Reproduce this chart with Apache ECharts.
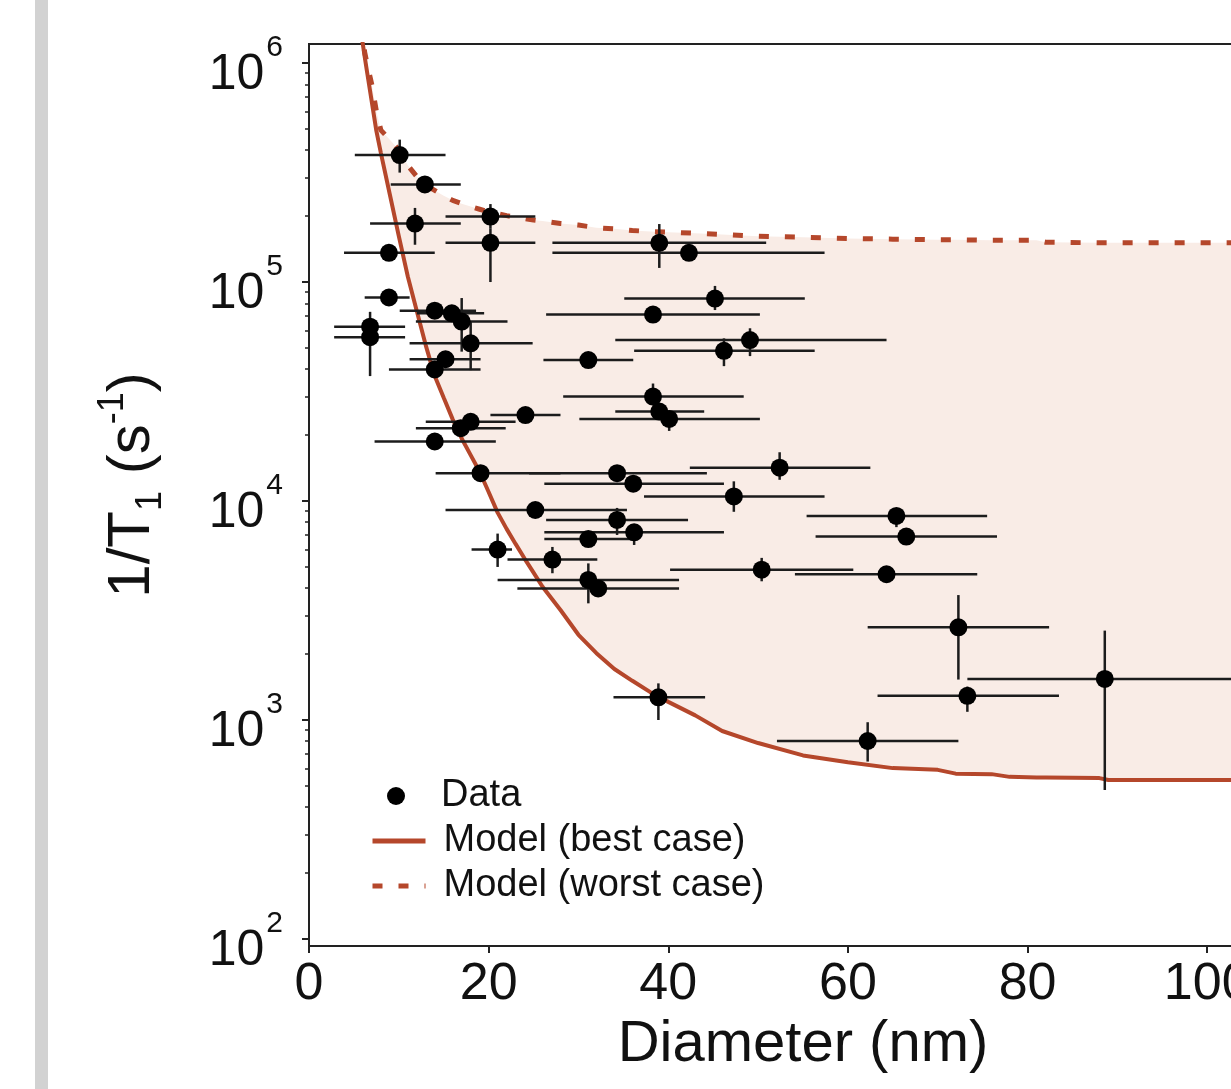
<!DOCTYPE html>
<html>
<head>
<meta charset="utf-8">
<script src="https://cdn.jsdelivr.net/npm/echarts@6/dist/echarts.min.js"></script>
<style>
html, body { margin: 0; padding: 0; overflow: hidden; background: #fff; width: 1231px; height: 1089px; }
#bar { position: absolute; left: 35px; top: 0; width: 13px; height: 1089px; background: #d2d2d2; }
#chart { position: absolute; left: 0; top: 0; width: 1300px; height: 1089px; }
</style>
</head>
<body>
<div id="chart"></div>
<div id="bar"></div>
<script>
// ---- Data points: diameter (nm) and relaxation rate 1/T1 (s^-1) with error ranges ----
const diameter     = [10.1, 12.9, 11.8, 20.2, 20.2, 8.9, 8.9, 14.0, 15.9, 17.0, 18.0, 6.8, 6.8, 15.2, 14.0, 14.0, 16.9, 18.0, 24.1, 19.1, 34.3, 36.1, 47.3, 25.2, 34.3, 36.2, 31.1, 21.0, 27.1, 31.1, 32.2, 38.9, 39.0, 42.3, 45.2, 38.3, 49.1, 46.2, 31.1, 38.3, 39.0, 40.1, 52.4, 65.4, 66.5, 50.4, 64.3, 72.3, 73.3, 88.6, 62.2];
const diameterLow  = [5.1, 9.1, 6.8, 15.2, 15.2, 3.9, 6.2, 10.1, 12.0, 11.9, 11.2, 2.8, 2.8, 11.2, 8.9, 7.3, 11.9, 13.0, 20.2, 14.1, 24.5, 26.2, 37.3, 15.2, 26.4, 26.2, 26.2, 18.1, 22.1, 21.0, 23.2, 33.9, 27.1, 27.1, 35.1, 26.4, 34.1, 36.2, 26.1, 28.3, 34.1, 30.1, 42.4, 55.4, 56.4, 40.2, 54.1, 62.2, 63.3, 73.3, 52.1];
const diameterHigh = [15.2, 16.9, 16.9, 25.2, 25.2, 14.0, 11.2, 18.6, 19.5, 22.1, 24.9, 10.7, 10.7, 19.1, 19.1, 20.8, 21.9, 23.0, 28.0, 28.0, 44.3, 46.2, 57.4, 35.4, 42.2, 46.2, 35.9, 22.6, 32.1, 41.2, 41.2, 44.1, 50.9, 57.4, 55.2, 50.2, 64.3, 56.3, 36.1, 48.4, 44.0, 50.2, 62.5, 75.5, 76.6, 60.6, 74.4, 82.4, 83.5, 104, 72.3];
const rate         = [3.8e5, 2.79e5, 1.85e5, 1.99e5, 1.51e5, 1.36e5, 8.5e4, 7.4e4, 7.2e4, 6.6e4, 5.25e4, 6.25e4, 5.6e4, 4.44e4, 3.99e4, 1.87e4, 2.15e4, 2.3e4, 2.47e4, 1.34e4, 1.34e4, 1.2e4, 1.05e4, 9.1e3, 8.2e3, 7.2e3, 6.7e3, 6.0e3, 5.4e3, 4.36e3, 3.99e3, 1.27e3, 1.51e5, 1.36e5, 8.4e4, 7.1e4, 5.43e4, 4.85e4, 4.4e4, 3.0e4, 2.56e4, 2.37e4, 1.42e4, 8.55e3, 6.88e3, 4.86e3, 4.63e3, 2.65e3, 1.29e3, 1.54e3, 802];
const rateLow      = [3.16e5, 2.79e5, 1.48e5, 1.75e5, 1.0e5, 1.36e5, 8.5e4, 7.4e4, 7.2e4, 4.81e4, 3.96e4, 6.25e4, 3.72e4, 4.44e4, 3.99e4, 1.87e4, 2.15e4, 2.3e4, 2.47e4, 1.34e4, 1.34e4, 1.2e4, 8.93e3, 9.1e3, 7.0e3, 6.3e3, 6.7e3, 5.0e3, 4.68e3, 3.41e3, 3.99e3, 1.0e3, 1.16e5, 1.36e5, 7.45e4, 7.1e4, 4.59e4, 4.13e4, 4.4e4, 3.0e4, 2.56e4, 2.09e4, 1.25e4, 7.6e3, 6.88e3, 4.3e3, 4.63e3, 1.53e3, 1.09e3, 479, 646];
const rateHigh     = [4.47e5, 2.79e5, 2.18e5, 2.27e5, 1.75e5, 1.36e5, 8.5e4, 7.4e4, 7.2e4, 8.45e4, 6.6e4, 7.31e4, 5.6e4, 4.44e4, 3.99e4, 1.87e4, 2.15e4, 2.3e4, 2.47e4, 1.34e4, 1.34e4, 1.2e4, 1.23e4, 9.1e3, 9.3e3, 7.2e3, 6.7e3, 7.1e3, 6.17e3, 5.19e3, 3.99e3, 1.47e3, 1.84e5, 1.36e5, 9.6e4, 7.1e4, 6.15e4, 5.53e4, 4.4e4, 3.44e4, 2.56e4, 2.37e4, 1.67e4, 8.55e3, 6.88e3, 5.5e3, 4.63e3, 3.72e3, 1.42e3, 2.56e3, 977];

// ---- Model curves ----
const modelDiameter = [5.8, 6.2, 6.5, 7, 7.5, 8, 9, 10, 11, 12, 13, 14, 15, 16, 17, 18, 19, 20, 21, 22, 23, 24, 25, 26, 28, 30, 32, 34, 36, 38, 40, 43, 46, 50, 55, 60, 65, 70, 72, 76, 78, 81, 82, 88, 89, 110];
const modelBest  = [1.38e6, 1.07e6, 8.91e5, 6.61e5, 4.90e5, 3.89e5, 2.51e5, 1.62e5, 1.06e5, 7.38e4, 5.14e4, 3.72e4, 2.96e4, 2.36e4, 1.93e4, 1.62e4, 1.36e4, 1.10e4, 8.85e3, 7.46e3, 6.37e3, 5.46e3, 4.71e3, 4.06e3, 3.18e3, 2.45e3, 2.02e3, 1.71e3, 1.51e3, 1.34e3, 1.21e3, 1.05e3, 891, 785, 689, 641, 603, 592, 569, 566, 550, 547, 547, 543, 532, 532];
const modelWorst = [1.51e6, 1.12e6, 9.77e5, 7.94e5, 6.03e5, 4.94e5, 4.47e5, 4.02e5, 3.41e5, 3.03e5, 2.77e5, 2.62e5, 2.48e5, 2.36e5, 2.28e5, 2.21e5, 2.15e5, 2.09e5, 2.05e5, 2.01e5, 1.98e5, 1.95e5, 1.92e5, 1.90e5, 1.85e5, 1.82e5, 1.77e5, 1.75e5, 1.72e5, 1.70e5, 1.69e5, 1.67e5, 1.65e5, 1.62e5, 1.60e5, 1.58e5, 1.57e5, 1.56e5, 1.56e5, 1.55e5, 1.55e5, 1.55e5, 1.52e5, 1.51e5, 1.51e5, 1.51e5];

// ---- Axis ticks ----
const xTicks = [0, 20, 40, 60, 80, 100];
const yDecades = [2, 3, 4, 5, 6];

const L = Math.log10;
const minorTicks = [];
yDecades.slice(0, -1).forEach(d => { for (let k = 2; k <= 9; k++) minorTicks.push(d + L(k)); });

const FONT = 'Liberation Sans, Arial, Helvetica, sans-serif';
const RUST = '#b5472b';
const INK = '#1c1c1c';
const FILL = '#f9ece6';

const chart = echarts.init(document.getElementById('chart'), null, { renderer: 'canvas' });

const errData = diameter.map((x, i) => [x, L(rate[i]), diameterLow[i], diameterHigh[i], L(rateLow[i]), L(rateHigh[i])]);

const option = {
  animation: false,
  backgroundColor: 'transparent',
  textStyle: { fontFamily: FONT },
  grid: { left: 309, right: 3, top: 44, bottom: 143, show: true, borderColor: '#222', borderWidth: 2, backgroundColor: 'transparent' },
  legend: [
    {
      data: ['Data'], left: 382, top: 771, orient: 'vertical',
      itemWidth: 18, itemHeight: 18, icon: 'circle',
      formatter: n => '{p|}' + n,
      textStyle: { fontFamily: FONT, fontSize: 38, color: '#111', lineHeight: 40, rich: { p: { width: 31 } } }
    },
    {
      data: ['Model (best case)', 'Model (worst case)'], left: 365, top: 816, orient: 'vertical',
      itemWidth: 53, itemHeight: 18, itemGap: 5,
      itemStyle: { opacity: 0 },
      lineStyle: { width: 5 },
      formatter: n => '{p|}' + n,
      textStyle: { fontFamily: FONT, fontSize: 38, color: '#111', lineHeight: 40, rich: { p: { width: 13 } } }
    }
  ],
  xAxis: {
    type: 'value', min: 0, max: 110, interval: 20,
    name: 'Diameter (nm)', nameLocation: 'middle', nameGap: 55,
    nameTextStyle: { fontFamily: FONT, fontSize: 58, color: '#111' },
    axisLine: { show: true, lineStyle: { color: '#222', width: 2 } },
    axisTick: { show: true, length: 7, lineStyle: { color: '#222', width: 2 } },
    axisLabel: { fontFamily: FONT, fontSize: 52, color: '#111', margin: 13, showMaxLabel: false,
      formatter: v => xTicks.indexOf(v) >= 0 ? String(v) : '' },
    splitLine: { show: false }
  },
  yAxis: [
    {
      type: 'value', min: 1.968, max: 6.087,
      name: '1/T{sub|1} (s{sup|-1})',
      nameLocation: 'middle', nameGap: 140, nameRotate: 90,
      nameTextStyle: { fontFamily: FONT, fontSize: 60, color: '#111', lineHeight: 74, padding: [0, 0, 0, 20],
        rich: {
          sub: { fontFamily: FONT, fontSize: 36, lineHeight: 36, verticalAlign: 'bottom', color: '#111' },
          sup: { fontFamily: FONT, fontSize: 36, lineHeight: 36, verticalAlign: 'top', color: '#111' }
        } },
      axisLine: { show: true, lineStyle: { color: '#222', width: 2 } },
      axisTick: { show: true, length: 7, customValues: yDecades, lineStyle: { color: '#222', width: 2 } },
      axisLabel: {
        customValues: yDecades, margin: 26, padding: [7, 0, 0, 0],
        formatter: v => '{b|10}{s|' + Math.round(v) + '}{h|\u200b}',
        rich: {
          b: { fontFamily: FONT, fontSize: 50, lineHeight: 48, verticalAlign: 'bottom', color: '#111' },
          s: { fontFamily: FONT, fontSize: 30, lineHeight: 30, verticalAlign: 'top', color: '#111', padding: [0, 0, 0, 2] },
          h: { fontSize: 2, lineHeight: 67, color: 'rgba(0,0,0,0)' }
        }
      },
      splitLine: { show: false }
    },
    {
      type: 'value', min: 1.968, max: 6.087, position: 'left',
      axisLine: { show: false },
      axisTick: { show: true, length: 4, customValues: minorTicks, lineStyle: { color: '#222', width: 1.5 } },
      axisLabel: { show: false },
      splitLine: { show: false }
    }
  ],
  series: [
    {
      name: 'band', type: 'custom', z: 1, clip: true, silent: true,
      encode: { x: 0, y: 1 },
      data: [[modelDiameter[0], L(modelBest[0])]],
      renderItem: (params, api) => {
        const pts = [];
        modelDiameter.forEach((x, i) => pts.push(api.coord([x, L(modelWorst[i])])));
        for (let i = modelDiameter.length - 1; i >= 0; i--) pts.push(api.coord([modelDiameter[i], L(modelBest[i])]));
        return { type: 'polygon', shape: { points: pts }, style: { fill: FILL } };
      }
    },
    {
      name: 'Model (best case)', type: 'line', z: 3,
      symbol: 'none', clip: true,
      lineStyle: { color: RUST, width: 4 }, itemStyle: { color: RUST },
      data: modelDiameter.map((x, i) => [x, L(modelBest[i])])
    },
    {
      name: 'Model (worst case)', type: 'line', z: 3,
      symbol: 'none', clip: true,
      lineStyle: { color: RUST, width: 5, type: [10, 16] }, itemStyle: { color: RUST },
      data: modelDiameter.map((x, i) => [x, L(modelWorst[i])])
    },
    {
      name: 'errors', type: 'custom', z: 4, clip: true, silent: true,
      encode: { x: 0, y: 1 },
      renderItem: (params, api) => {
        const x = api.value(0), y = api.value(1);
        const pL = api.coord([api.value(2), y]);
        const pR = api.coord([api.value(3), y]);
        const pB = api.coord([x, api.value(4)]);
        const pT = api.coord([x, api.value(5)]);
        const style = { stroke: INK, lineWidth: 2.5 };
        return { type: 'group', children: [
          { type: 'line', shape: { x1: pL[0], y1: pL[1], x2: pR[0], y2: pR[1] }, style },
          { type: 'line', shape: { x1: pB[0], y1: pB[1], x2: pT[0], y2: pT[1] }, style }
        ] };
      },
      data: errData
    },
    {
      name: 'Data', type: 'scatter', z: 5, symbol: 'circle', symbolSize: 18,
      itemStyle: { color: '#000', opacity: 1 },
      data: diameter.map((x, i) => [x, L(rate[i])])
    }
  ]
};
chart.setOption(option);
</script>
</body>
</html>
